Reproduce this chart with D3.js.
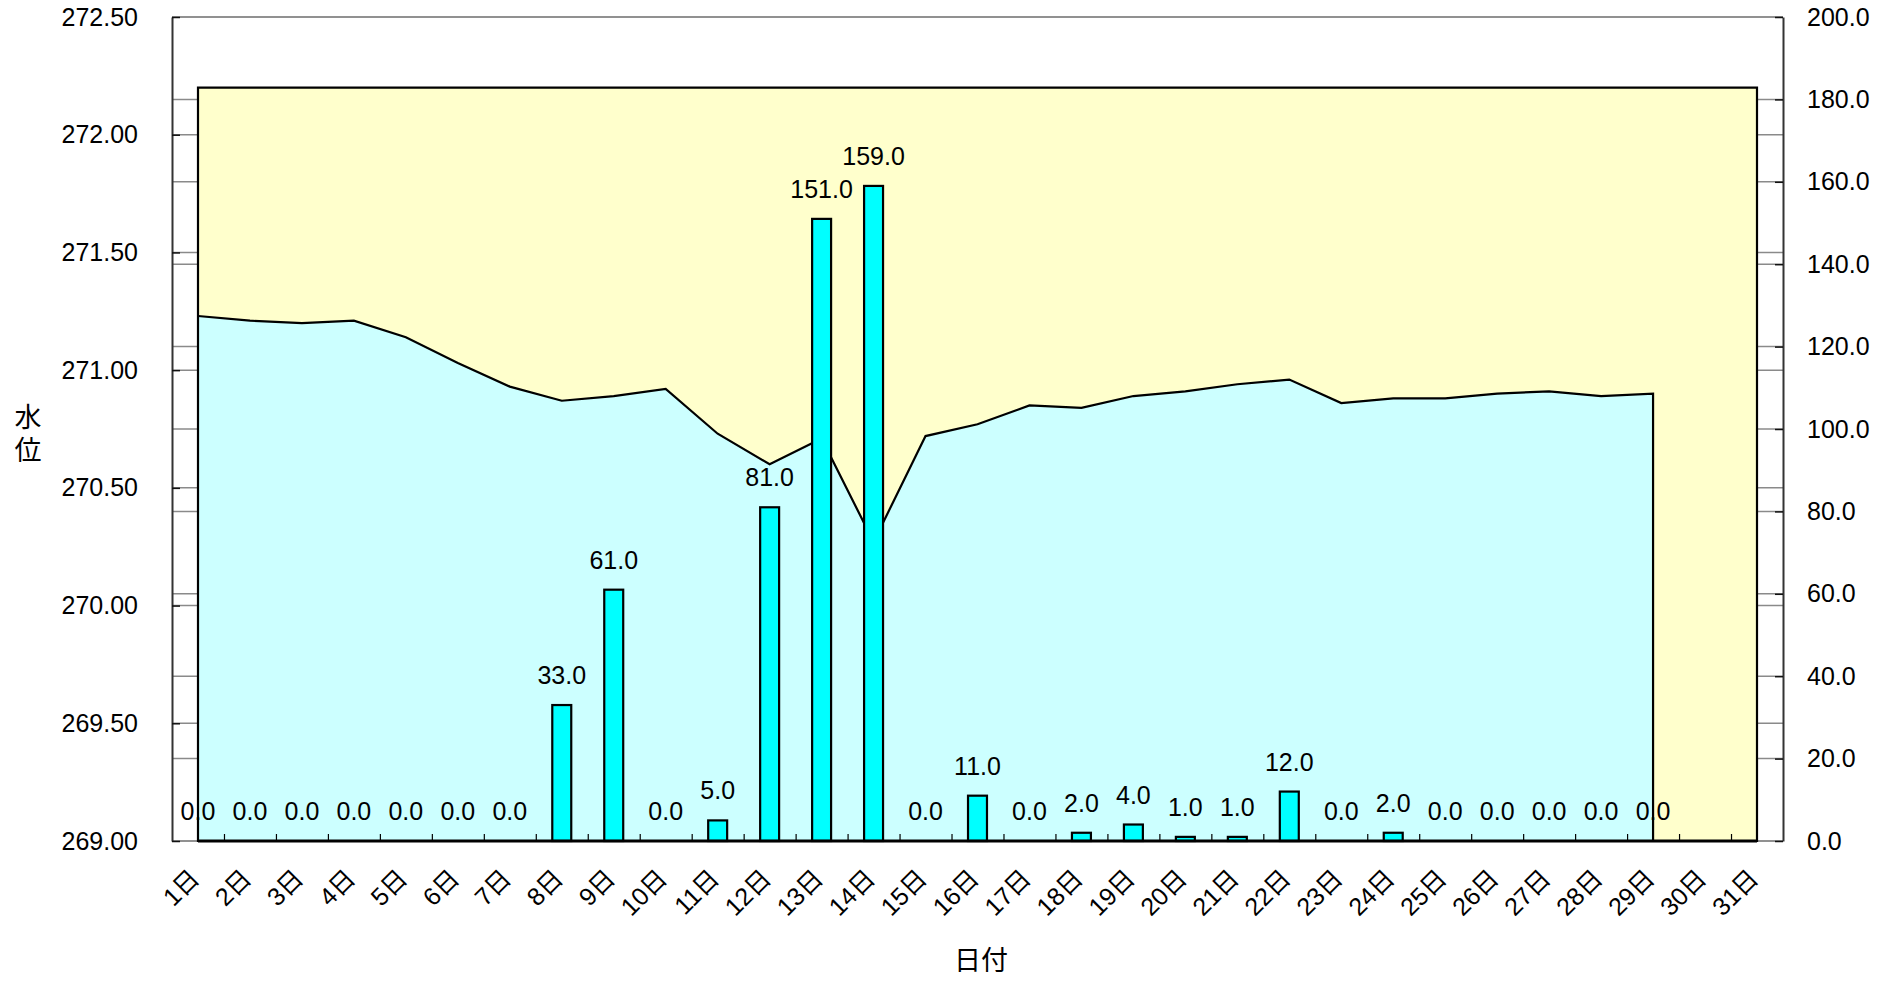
<!DOCTYPE html>
<html>
<head>
<meta charset="utf-8">
<script src="https://cdn.jsdelivr.net/npm/d3@7"></script>
<style>
body { margin: 0; background: #fff; }
text { font-family: "Liberation Sans", "Noto Sans CJK JP", sans-serif; font-size: 25px; fill: #000; }
text.title { font-size: 27px; }
</style>
</head>
<body>
<svg id="chart" width="1893" height="981"></svg>
<script>
// days of the month
var days = [1, 2, 3, 4, 5, 6, 7, 8, 9, 10, 11, 12, 13, 14, 15, 16, 17, 18, 19, 20,
	21, 22, 23, 24, 25, 26, 27, 28, 29, 30, 31]
// water level (m), days 1-29
var waterLevel = [271.23, 271.21, 271.20, 271.21, 271.14, 271.03, 270.93, 270.87, 270.89, 270.92,
	270.73, 270.60, 270.71, 270.27, 270.72, 270.77, 270.85, 270.84, 270.89, 270.91,
	270.94, 270.96, 270.86, 270.88, 270.88, 270.90, 270.91, 270.89, 270.90]
// rainfall (mm), days 1-29
var rainfall = [0, 0, 0, 0, 0, 0, 0, 33, 61, 0, 5, 81, 151, 159, 0, 11, 0, 2, 4, 1,
	1, 12, 0, 2, 0, 0, 0, 0, 0]
// upper level of the yellow band
var frameLevel = 272.20
var levelTicks = [269.00, 269.50, 270.00, 270.50, 271.00, 271.50, 272.00, 272.50]
var rainTicks = [0, 20, 40, 60, 80, 100, 120, 140, 160, 180, 200]

var svg = d3.select("#chart")
var frameL = 172, frameR = 1783, frameT = 17, frameB = 841

var x = d3.scaleLinear().domain([1, 31]).range([198, 1757])
var yLevel = d3.scaleLinear().domain([269, 272.5]).range([frameB, frameT])
var yRain = d3.scaleLinear().domain([0, 200]).range([frameB, frameT])

// grid lines behind everything
var grid = svg.append("g")
grid.selectAll("line.lv").data(levelTicks).join("line")
	.attr("class", "lv")
	.attr("x1", frameL).attr("x2", frameR)
	.attr("y1", d => yLevel(d)).attr("y2", d => yLevel(d))
	.attr("stroke", "#8a8a8a").attr("stroke-width", 1.5)
grid.selectAll("line.rn").data(rainTicks).join("line")
	.attr("class", "rn")
	.attr("x1", frameL).attr("x2", frameR)
	.attr("y1", d => yRain(d)).attr("y2", d => yRain(d))
	.attr("stroke", "#8a8a8a").attr("stroke-width", 1.5)

// left and right axes
var axL = svg.append("g")
	.attr("transform", "translate(" + frameL + ",0)")
	.call(d3.axisLeft(yLevel).tickValues(levelTicks).tickFormat(d3.format(".2f"))
		.tickSizeInner(-8).tickSizeOuter(0).tickPadding(34))
var axR = svg.append("g")
	.attr("transform", "translate(" + frameR + ",0)")
	.call(d3.axisRight(yRain).tickValues(rainTicks).tickFormat(d3.format(".1f"))
		.tickSizeInner(-8).tickSizeOuter(0).tickPadding(24))
;[axL, axR].forEach(function(ax) {
	ax.select(".domain").attr("stroke", "#333").attr("stroke-width", 2)
	ax.selectAll(".tick line").attr("stroke", "#111").attr("stroke-width", 1.5)
})

// yellow band
var band = d3.area().x(d => x(d)).y0(frameB).y1(yLevel(frameLevel))
svg.append("path").datum(days)
	.attr("d", band)
	.attr("fill", "#FFFFCC")

// water level area
var idx = waterLevel.map((v, i) => i)
var area = d3.area().x(i => x(days[i])).y0(frameB).y1(i => yLevel(waterLevel[i]))
svg.append("path").datum(idx)
	.attr("d", area)
	.attr("fill", "#CCFFFF")

// x ticks between days, pointing up
var mids = days.slice(0, 30).map(d => d + 0.5)
var axX = svg.append("g")
	.attr("transform", "translate(0," + frameB + ")")
	.call(d3.axisBottom(x).tickValues(mids).tickFormat("").tickSizeInner(-7).tickSizeOuter(0))
axX.select(".domain").remove()
axX.selectAll(".tick line").attr("stroke", "#000").attr("stroke-width", 1.2)

// rainfall labels
svg.append("g").selectAll("text").data(idx).join("text")
	.attr("x", i => x(days[i]))
	.attr("y", i => yRain(rainfall[i]) - 21)
	.attr("text-anchor", "middle")
	.text(i => d3.format(".1f")(rainfall[i]))

// outlines
svg.append("path").datum(days)
	.attr("d", band)
	.attr("fill", "none").attr("stroke", "#000").attr("stroke-width", 2.2)

var pts = idx.map(i => [x(days[i]), yLevel(waterLevel[i])])
pts.push([x(days[waterLevel.length - 1]), frameB])
svg.append("path")
	.attr("d", d3.line()(pts))
	.attr("fill", "none").attr("stroke", "#000").attr("stroke-width", 2.2)

// rain bars
var bw = (x(2) - x(1)) * 0.365
svg.append("g").selectAll("rect").data(idx.filter(i => rainfall[i] > 0)).join("rect")
	.attr("x", i => x(days[i]) - bw / 2)
	.attr("y", i => yRain(rainfall[i]))
	.attr("width", bw)
	.attr("height", i => frameB - yRain(rainfall[i]))
	.attr("fill", "#00FFFF").attr("stroke", "#000").attr("stroke-width", 2.2)

svg.append("line")
	.attr("x1", x(1)).attr("x2", x(31)).attr("y1", frameB).attr("y2", frameB)
	.attr("stroke", "#000").attr("stroke-width", 3)

// day labels
svg.append("g").selectAll("text").data(days).join("text")
	.attr("transform", d => "translate(" + (x(d) + 3) + ",880) rotate(-45)")
	.attr("text-anchor", "end")
	.text(d => d + "日")

// axis titles
svg.append("text").attr("class", "title").attr("x", 28).attr("y", 418).attr("text-anchor", "middle")
	.attr("dominant-baseline", "central").text("水")
svg.append("text").attr("class", "title").attr("x", 28).attr("y", 451).attr("text-anchor", "middle")
	.attr("dominant-baseline", "central").text("位")
svg.append("text").attr("class", "title").attr("x", 981).attr("y", 961).attr("text-anchor", "middle")
	.attr("dominant-baseline", "central").text("日付")
</script>
</body>
</html>
